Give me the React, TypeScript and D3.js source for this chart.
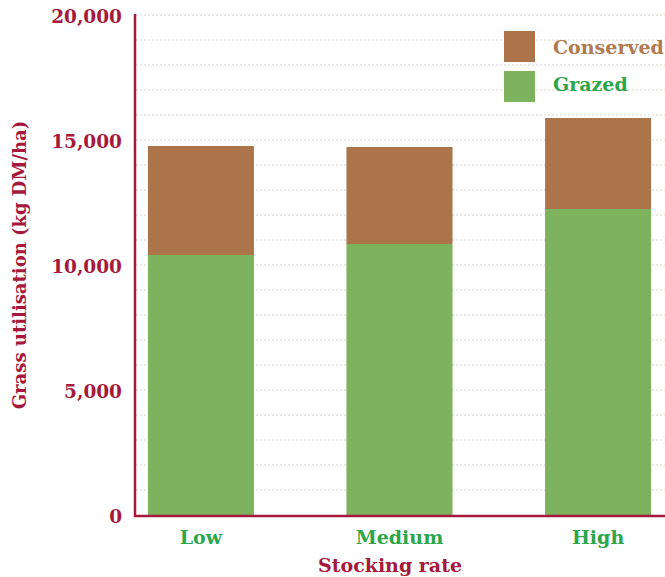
import React from "react";
import * as d3 from "d3";

const categories = ["Low", "Medium", "High"];
const grazed = [10400, 10840, 12240];
const conserved = [4360, 3880, 3640];
const yTicks = [0, 5000, 10000, 15000, 20000];
const gridValues = d3.range(1000, 20001, 1000);
const seriesNames = ["Conserved", "Grazed"];

const W = 665, H = 577;
const CRIMSON = "#a6193c";
const BROWN = "#ab744b";
const GREEN = "#7db35c";
const GREEN_TEXT = "#2ba64a";
const BROWN_TEXT = "#b07a50";
const FONT = "'DejaVu Serif', serif";

export default function App() {
  const x = d3.scaleBand<string>().domain(categories).range([135, 664]).paddingInner(0.466).paddingOuter(0.065);
  const y = d3.scaleLinear().domain([0, 20000]).range([515, 15]);
  const fmt = d3.format(",");
  const rows = categories.map((c, i) => ({ cat: c, Grazed: grazed[i], Conserved: conserved[i] }));
  const stack = d3.stack<any>().keys(["Grazed", "Conserved"])(rows);
  const colors: Record<string, string> = { Grazed: GREEN, Conserved: BROWN };
  const legendColors: Record<string, string> = { Conserved: BROWN, Grazed: GREEN };
  const legendText: Record<string, string> = { Conserved: BROWN_TEXT, Grazed: GREEN_TEXT };

  return (
    <svg width={W} height={H} style={{ position: "absolute", left: 0, top: 0, background: "#fff" }} fontFamily={FONT}>
      {gridValues.map((v) => (
        <line key={v} x1={136} x2={W} y1={y(v)} y2={y(v)} stroke="#d9d4cc" strokeWidth={1} strokeDasharray="2,2" />
      ))}
      {stack.map((s) => (
        <g key={s.key} fill={colors[s.key]}>
          {s.map((d, i) => (
            <rect key={i} x={x(categories[i])} width={x.bandwidth()} y={y(d[1])} height={y(d[0]) - y(d[1])} />
          ))}
        </g>
      ))}
      <line x1={135} x2={135} y1={14} y2={517} stroke={CRIMSON} strokeWidth={2.5} />
      <line x1={134} x2={W} y1={516} y2={516} stroke={CRIMSON} strokeWidth={2.5} />
      {yTicks.map((t) => (
        <text key={t} x={122} y={y(t) + 2} dy="0.35em" textAnchor="end" fill={CRIMSON} fontSize={18.5} fontWeight="bold">
          {fmt(t)}
        </text>
      ))}
      {categories.map((c) => (
        <text key={c} x={(x(c) as number) + x.bandwidth() / 2} y={537} dy="0.35em" textAnchor="middle" fill={GREEN_TEXT} fontSize={19} fontWeight="bold">
          {c}
        </text>
      ))}
      <text x={390} y={565} dy="0.35em" textAnchor="middle" fill={CRIMSON} fontSize={19} fontWeight="bold">Stocking rate</text>
      <text transform="translate(20,265) rotate(-90)" dy="0.35em" textAnchor="middle" fill={CRIMSON} fontSize={18} fontWeight="bold">
        Grass utilisation (kg DM/ha)
      </text>
      {seriesNames.map((n, i) => (
        <g key={n} transform={`translate(504,${31 + i * 40})`}>
          <rect width={31} height={31} fill={legendColors[n]} />
          <text x={49} y={16 - i * 3} dy="0.35em" fill={legendText[n]} fontSize={19} fontWeight="bold">{n}</text>
        </g>
      ))}
    </svg>
  );
}
